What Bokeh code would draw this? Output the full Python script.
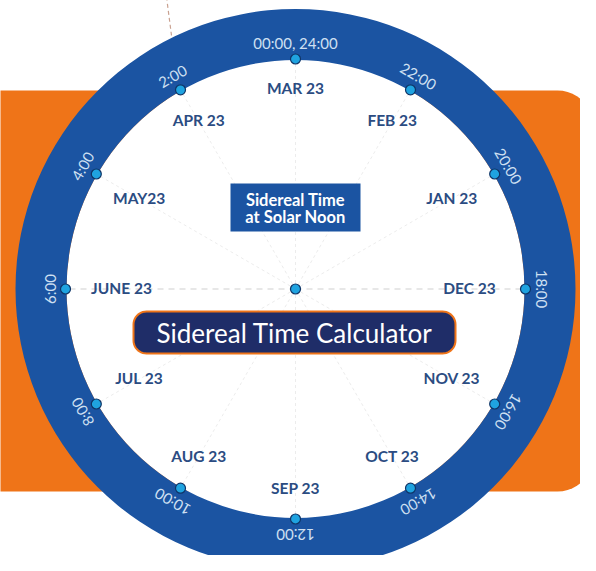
import numpy as np
from bokeh.plotting import figure
from bokeh.models import Range1d, ColumnDataSource
from bokeh.core.properties import value
from bokeh.embed import file_html
from bokeh.resources import INLINE

# ---- data ----
months = ["MAR 23", "APR 23", "MAY23", "JUNE 23", "JUL 23", "AUG 23",
          "SEP 23", "OCT 23", "NOV 23", "DEC 23", "JAN 23", "FEB 23"]
hours = [0, 2, 4, 6, 8, 10, 12, 14, 16, 18, 20, 22]
hour_labels = ["00:00, 24:00", "2:00", "4:00", "6:00", "8:00", "10:00",
               "12:00", "14:00", "16:00", "18:00", "20:00", "22:00"]
title = "Sidereal Time Calculator"
box_lines = ["Sidereal Time", "at Solar Noon"]

# ---- styling ----
RING_BLUE = "#1b54a2"
ORANGE = "#ef7418"
NAVY = "#1f2d68"
MONTH_COL = "#2b4c82"
HOUR_COL = "#cfe0f2"
DOT_FILL = "#1fa3e0"
DOT_LINE = "#0f3466"

R_IN, R_OUT, R_DOT, R_HOUR = 229, 280, 230, 246

def rounded_rect(x0, x1, y0, y1, r, corners=(True, True, True, True), n=12):
    # corners: (top-left, top-right, bottom-right, bottom-left)
    xs, ys = [], []
    specs = [((x0 + r, y1 - r), np.pi / 2, np.pi, corners[0], (x0, y1)),
             ((x0 + r, y0 + r), np.pi, 1.5 * np.pi, corners[3], (x0, y0)),
             ((x1 - r, y0 + r), 1.5 * np.pi, 2 * np.pi, corners[2], (x1, y0)),
             ((x1 - r, y1 - r), 0, np.pi / 2, corners[1], (x1, y1))]
    for (cx, cy), a0, a1, rnd, sq in specs:
        if rnd:
            t = np.linspace(a0, a1, n)
            xs.extend(cx + r * np.cos(t)); ys.extend(cy + r * np.sin(t))
        else:
            xs.append(sq[0]); ys.append(sq[1])
    return xs, ys

p = figure(width=580, height=555, output_backend="svg", toolbar_location=None,
           x_range=Range1d(-295, 285), y_range=Range1d(-266.5, 288.5),
           min_border=0, outline_line_color=None)
p.axis.visible = False
p.grid.visible = False
p.background_fill_color = "white"
p.border_fill_color = "white"

# orange background band
ox, oy = rounded_rect(-310, 298, -202.5, 198.5, 36, corners=(False, True, True, False))
p.patch(ox, oy, fill_color=ORANGE, line_color=None)

# decorative dashed line at top-left
p.line([-129, -124], [292, 253.5], line_color="#c9a190", line_dash="4 3", line_width=1.2)

# ring + white face
p.circle(x=[0], y=[0], radius=R_IN, fill_color="white", line_color=None)
p.annulus(x=[0], y=[0], inner_radius=R_IN, outer_radius=R_OUT,
          fill_color=RING_BLUE, line_color=None)

theta = np.array(hours) / 24.0 * 2 * np.pi
sx, sy = -np.sin(theta), np.cos(theta)

# spokes
for i in range(len(hours)):
    horiz = hours[i] in (6, 18)
    p.line([0, R_DOT * sx[i]], [0, R_DOT * sy[i]],
           line_color="#cfcfcf" if horiz else "#ececec",
           line_dash="6 5" if horiz else "3 3", line_width=1)

# hour dots
src = ColumnDataSource(dict(x=R_DOT * sx, y=R_DOT * sy))
p.scatter("x", "y", source=src, size=10, fill_color=DOT_FILL,
          line_color=DOT_LINE, line_width=1.2)
p.scatter([0], [0], size=10, fill_color=DOT_FILL, line_color=DOT_LINE, line_width=1.2)

# hour labels (rotated along the ring)
p.text(x=list(R_HOUR * sx), y=list(R_HOUR * sy), text=hour_labels, angle=list(theta),
       text_align="center", text_baseline="middle", text_color=HOUR_COL,
       text_font=value("Lato"), text_font_size="15px")

# month labels
r_m = 200 - 26 * np.sin(theta) ** 2
p.text(x=list(r_m * sx), y=list(r_m * sy + 1), text=months,
       text_align="center", text_baseline="middle", text_color=MONTH_COL,
       text_font=value("Lato"), text_font_style="bold", text_font_size="15.5px")

# center box
p.quad(left=[-65], right=[65], bottom=[57.5], top=[105.5],
       fill_color=RING_BLUE, line_color=None)
p.text(x=[0, 0], y=[89.5, 72.5], text=box_lines, text_align="center",
       text_baseline="middle", text_color="white", text_font=value("Lato"),
       text_font_style="bold", text_font_size="16.5px")

# title pill
tx, ty = rounded_rect(-162, 160, -64.5, -22.5, 13)
p.patch(tx, ty, fill_color=NAVY, line_color=ORANGE, line_width=2)
p.text(x=[-1], y=[-43.5], text=[title], text_align="center", text_baseline="middle",
       text_color="white", text_font=value("Lato"), text_font_size="26px")

open("out.html", "w").write(file_html(p, INLINE))
